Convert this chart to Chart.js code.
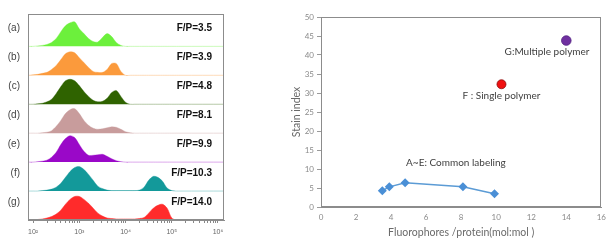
<!DOCTYPE html>
<html>
<head>
<meta charset="utf-8">
<script src="https://cdn.jsdelivr.net/npm/chart.js@4/dist/chart.umd.min.js"></script>
<style>
html, body { margin: 0; padding: 0; background: #fff; width: 612px; height: 248px; overflow: hidden; }
#histWrap { position: absolute; left: 0; top: 0; width: 240px; height: 248px; }
#siWrap { position: absolute; left: 240px; top: 0; width: 372px; height: 248px; }
</style>
</head>
<body>
<div id="histWrap"><canvas id="histChart" width="240" height="248"></canvas></div>
<div id="siWrap"><canvas id="siChart" width="372" height="248"></canvas></div>
<script>
// ---- left panel: flow histograms (x = log10 fluorescence) ----
var logBins = [1.9, 2.0, 2.1, 2.2, 2.3, 2.4, 2.5, 2.6, 2.7, 2.8, 2.9, 3.0, 3.1, 3.2, 3.3, 3.4, 3.5,
               3.6, 3.7, 3.8, 3.9, 4.0, 4.1, 4.2, 4.3, 4.4, 4.5, 4.6, 4.7, 4.8, 4.9, 5.0, 5.1, 5.2, 6.13];
var histA = [0, 0, 0.5, 1, 2, 4, 8, 15, 21, 24, 25, 18, 13, 8, 5, 4.5, 9, 13, 10, 4, 1, 0, 0, 0, 0, 0, 0, 0, 0, 0, 0, 0, 0, 0, 0];
var histB = [0, 0.5, 1, 2, 3, 6, 10, 16, 22, 24, 23, 18, 13, 8, 4, 3, 3, 6, 12, 12, 4, 0, 0, 0, 0, 0, 0, 0, 0, 0, 0, 0, 0, 0, 0];
var histC = [0, 0, 0.5, 1, 2.5, 5, 11, 18, 24, 25.5, 24, 19, 13, 8, 4, 2.5, 3, 6, 12, 14, 8, 2, 0, 0, 0, 0, 0, 0, 0, 0, 0, 0, 0, 0, 0];
var histD = [0, 0, 0, 0.5, 1, 2.5, 7, 13, 20, 24, 25, 20, 13, 8, 5, 4, 4.5, 5.5, 6.5, 6, 4, 1.5, 0.5, 0, 0, 0, 0, 0, 0, 0, 0, 0, 0, 0, 0];
var histE = [0, 0, 0.5, 1, 2, 5, 10, 18, 24, 27, 25, 18, 11, 7, 7, 7.5, 8, 6, 3.5, 1.5, 0.5, 0, 0, 0, 0, 0, 0, 0, 0, 0, 0, 0, 0, 0, 0];
var histF = [0, 0, 0, 0.5, 1, 2, 4, 8, 14, 20, 24, 25, 22, 17, 11, 5, 2.5, 1, 0.5, 0.5, 0.5, 0.5, 0.5, 0.5, 1, 4, 11, 15, 14, 10, 3, 0.5, 0, 0, 0];
var histG = [0, 0, 0.5, 1, 2, 3.5, 6, 10, 16, 21, 24, 24, 21, 17, 12, 7, 4, 2, 1.5, 1, 1, 1, 1, 1, 1.5, 2.5, 7, 12, 15, 16, 12, 2, 0, 0, 0];
var sampleNames = ['(a)', '(b)', '(c)', '(d)', '(e)', '(f)', '(g)'];
var fpLabels = ['F/P=3.5', 'F/P=3.9', 'F/P=4.8', 'F/P=8.1', 'F/P=9.9', 'F/P=10.3', 'F/P=14.0'];
var decadeTicks = [2, 3, 4, 5, 6];
var decadeLabels = ['10\u00b2', '10\u00b3', '10\u2074', '10\u2075', '10\u2076'];

// ---- right panel: stain index ----
var fpCommon = [3.5, 3.9, 4.8, 8.1, 9.9];
var siCommon = [4.3, 5.3, 6.4, 5.3, 3.5];
var fpSingle = [10.3];
var siSingle = [32.3];
var fpMulti = [14.0];
var siMulti = [43.8];
var noteTexts = ['G:Multiple polymer', 'F : Single polymer', 'A~E: Common labeling'];

var histColors = ['#6cf03c', '#fb9a3c', '#2f6300', '#c89c9c', '#9a08c8', '#13999a', '#ff2b2b'];
var histLines = ['rgba(108,240,60,0.35)', 'rgba(251,154,60,0.35)', 'rgba(47,99,0,0.35)', 'rgba(200,156,156,0.35)',
                 'rgba(154,8,200,0.35)', 'rgba(19,153,154,0.35)', 'rgba(255,43,43,0.5)'];
var rowStep = 29.5;

var boxPlugin = {
    id: 'box',
    afterDatasetsDraw: function(chart) {
        var a = chart.chartArea, c = chart.ctx;
        c.save();
        c.strokeStyle = '#8c8c8c';
        c.lineWidth = 1;
        c.strokeRect(Math.round(a.left) + 0.5, Math.round(a.top) + 0.5,
                     Math.round(a.right - a.left) - 1, Math.round(a.bottom - a.top) - 1);
        c.restore();
    }
};

document.addEventListener('DOMContentLoaded', function() {
    var allHist = [histA, histB, histC, histD, histE, histF, histG];
    var bases = [];
    var histSets = allHist.map(function(h, i) {
        var base = (6 - i) * rowStep;
        bases.push(base);
        return {
            label: sampleNames[i],
            data: logBins.map(function(x, j) { return { x: x, y: base + h[j] }; }),
            backgroundColor: histColors[i],
            borderColor: histLines[i],
            borderWidth: 1,
            pointRadius: 0,
            tension: 0.3,
            fill: { value: base }
        };
    });

    var ctx = document.getElementById('histChart').getContext('2d');
    new Chart(ctx, {
        type: 'line',
        data: { datasets: histSets },
        options: {
            responsive: false,
            animation: false,
            layout: { padding: { left: 0, right: 16, top: 10, bottom: 8 } },
            plugins: { legend: { display: false }, tooltip: { enabled: false } },
            scales: {
                x: {
                    type: 'linear', min: 1.89, max: 6.13,
                    afterBuildTicks: function(s) {
                        var t = [];
                        decadeTicks.forEach(function(d) {
                            t.push({ value: d });
                            if (d < 6) for (var k = 2; k < 10; k++) t.push({ value: d + Math.log10(k) });
                        });
                        s.ticks = t;
                    },
                    afterFit: function(s) { s.height = 20; },
                    ticks: {
                        autoSkip: false, maxRotation: 0, padding: 5,
                        color: '#666', font: { family: 'Liberation Sans', size: 7 },
                        callback: function(v) {
                            var i = decadeTicks.indexOf(v);
                            return i >= 0 ? decadeLabels[i] : '';
                        }
                    },
                    grid: { drawOnChartArea: false, tickLength: 3, color: '#888' },
                    border: { color: '#8c8c8c' }
                },
                y: {
                    min: 0, max: 210,
                    afterBuildTicks: function(s) {
                        s.ticks = bases.map(function(b) { return { value: b + 18 }; });
                    },
                    afterFit: function(s) { s.width = 28; },
                    ticks: {
                        padding: 8, color: '#444', font: { family: 'Liberation Sans', size: 10 },
                        callback: function(v, i) { return sampleNames[i]; }
                    },
                    grid: { display: false, drawTicks: false },
                    border: { color: '#8c8c8c' }
                },
                y2: {
                    position: 'right', min: 0, max: 210,
                    afterBuildTicks: function(s) {
                        s.ticks = bases.map(function(b) { return { value: b + 18 }; });
                    },
                    afterFit: function(s) { s.width = 0; },
                    ticks: {
                        mirror: true, padding: -12, color: '#111',
                        font: { family: 'Liberation Sans', size: 10, weight: 'bold' },
                        callback: function(v, i) { return fpLabels[i]; }
                    },
                    grid: { display: false, drawTicks: false },
                    border: { display: false }
                }
            }
        },
        plugins: [boxPlugin]
    });

    var notePlace = [[12.9, 40.8], [10.3, 29.2], [7.7, 11.6]];
    var notePlugin = {
        id: 'notes',
        afterDatasetsDraw: function(chart) {
            var c = chart.ctx, sx = chart.scales.x, sy = chart.scales.y;
            c.save();
            c.font = '10px Lato';
            c.fillStyle = '#404040';
            c.textAlign = 'center';
            c.textBaseline = 'middle';
            noteTexts.forEach(function(t, i) {
                c.fillText(t, sx.getPixelForValue(notePlace[i][0]), sy.getPixelForValue(notePlace[i][1]));
            });
            c.restore();
        }
    };

    var ctx2 = document.getElementById('siChart').getContext('2d');
    var pts = function(xs, ys) { return xs.map(function(x, i) { return { x: x, y: ys[i] }; }); };
    new Chart(ctx2, {
        type: 'scatter',
        data: {
            datasets: [{
                label: 'A~E',
                data: pts(fpCommon, siCommon),
                showLine: true,
                borderColor: '#5b9bd5',
                backgroundColor: '#4a8fd6',
                borderWidth: 1.5,
                pointStyle: 'rectRot',
                pointRadius: 4.5,
                pointBorderWidth: 0
            }, {
                label: 'F',
                data: pts(fpSingle, siSingle),
                backgroundColor: '#f01010',
                borderColor: '#8a1010',
                pointRadius: 4.5,
                pointBorderWidth: 0.8
            }, {
                label: 'G',
                data: pts(fpMulti, siMulti),
                backgroundColor: '#7030a0',
                borderColor: '#502080',
                pointRadius: 4.8,
                pointBorderWidth: 0.8
            }]
        },
        options: {
            responsive: false,
            animation: false,
            layout: { padding: { left: 50, right: 9, top: 17, bottom: 9 } },
            plugins: { legend: { display: false }, tooltip: { enabled: false } },
            scales: {
                x: {
                    min: 0, max: 16,
                    afterFit: function(s) { s.height = 32; },
                    ticks: { stepSize: 2, padding: 6, color: '#8a8a8a', font: { family: 'Lato', size: 8 } },
                    grid: { display: false, drawTicks: false },
                    border: { color: '#8c8c8c' },
                    title: {
                        display: true, text: 'Fluorophores /protein(mol:mol )',
                        color: '#6a6a6a', font: { family: 'Lato', size: 10.5 }, padding: 0
                    }
                },
                y: {
                    min: 0, max: 50,
                    afterFit: function(s) { s.width = 31; },
                    ticks: { stepSize: 5, padding: 3, color: '#8a8a8a', font: { family: 'Lato', size: 8 } },
                    grid: { drawOnChartArea: false, tickLength: 4, color: '#9a9a9a' },
                    border: { color: '#8c8c8c' },
                    title: {
                        display: true, text: 'Stain index',
                        color: '#6a6a6a', font: { family: 'Lato', size: 10.5 }, padding: 0
                    }
                }
            }
        },
        plugins: [boxPlugin, notePlugin]
    });
});
</script>
</body>
</html>
